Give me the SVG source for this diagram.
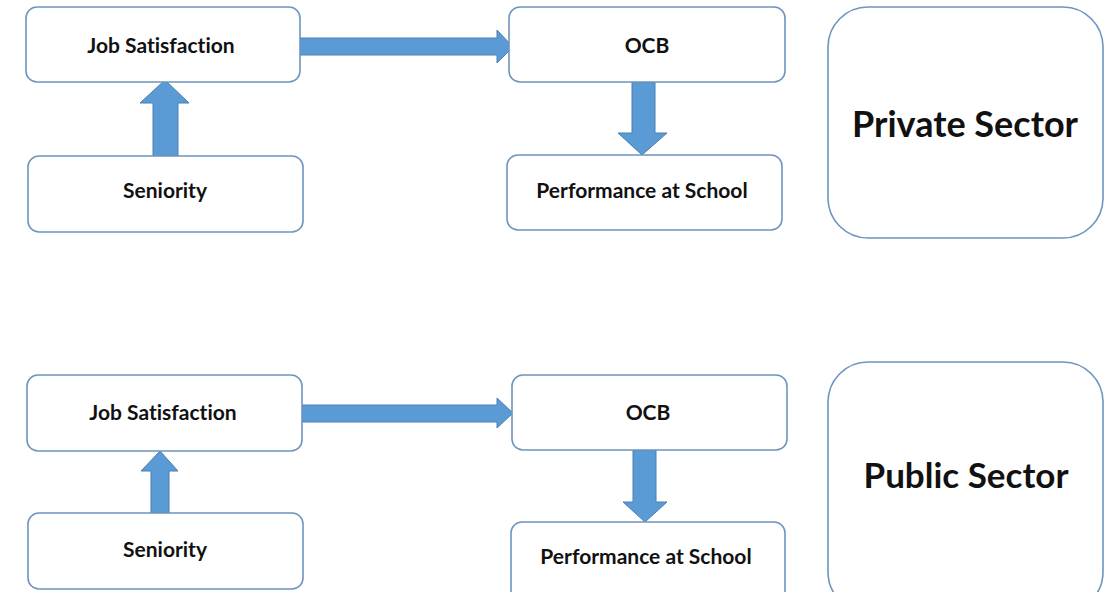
<svg xmlns="http://www.w3.org/2000/svg" width="1104" height="592" viewBox="0 0 1104 592">
<style>
.box{fill:#ffffff;stroke:#6f94bf;stroke-width:1.6}
.arr{fill:#5b9bd5;stroke:#4a7fb0;stroke-width:1}
.t{font-family:Lato,"Liberation Sans",sans-serif;font-weight:bold;fill:#111;text-anchor:middle;font-variant-ligatures:none}
.s{font-size:21px}
.b{font-size:36px}
.b2{font-size:35px}
</style>
<rect width="1104" height="592" fill="#ffffff"/>
<g id="connectors">
<path class="arr" d="M153,156 V103 H140 L165,80 L189,103 H178 V156 Z"/>
<path class="arr" d="M300,38 H497 V30 L513,47 L497,63 V55 H300 Z"/>
<path class="arr" d="M632,82 V133 H618 L642,155 L667,133 H655 V82 Z"/>
<path class="arr" d="M151,513 V471 H141 L160,451 L178,471 H169 V513 Z"/>
<path class="arr" d="M302,405 H497 V398 L513,413 L497,428 V422 H302 Z"/>
<path class="arr" d="M633,450 V502 H623 L645,522 L667,502 H656 V450 Z"/>
</g>
<g id="job1"><rect class="box" x="26" y="7" width="274" height="75" rx="11"/><text class="t s" x="161" y="53">Job Satisfaction</text></g>
<g id="sen1"><rect class="box" x="28" y="156" width="275" height="76" rx="11"/><text class="t s" x="165" y="198">Seniority</text></g>
<g id="ocb1"><rect class="box" x="509" y="7" width="276" height="75" rx="11"/><text class="t s" x="647" y="53">OCB</text></g>
<g id="perf1"><rect class="box" x="507" y="155" width="275" height="75" rx="11"/><text class="t s" x="642" y="198">Performance at School</text></g>
<g id="private"><rect class="box" x="828" y="7" width="275" height="231" rx="40"/><text class="t b" x="965" y="137">Private Sector</text></g>
<g id="job2"><rect class="box" x="27" y="375" width="275" height="76" rx="11"/><text class="t s" x="163" y="420">Job Satisfaction</text></g>
<g id="sen2"><rect class="box" x="28" y="513" width="275" height="76" rx="11"/><text class="t s" x="165" y="557">Seniority</text></g>
<g id="ocb2"><rect class="box" x="512" y="375" width="275" height="75" rx="11"/><text class="t s" x="648" y="420">OCB</text></g>
<g id="perf2"><rect class="box" x="511" y="522" width="274" height="80" rx="11"/><text class="t s" x="646" y="564">Performance at School</text></g>
<g id="public"><rect class="box" x="828" y="362" width="275" height="250" rx="40"/><text class="t b2" x="966" y="488">Public Sector</text></g>
</svg>
